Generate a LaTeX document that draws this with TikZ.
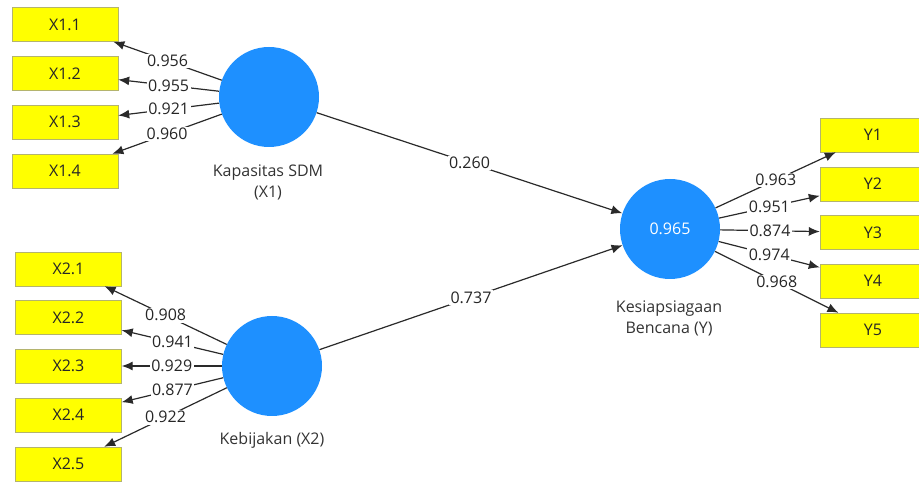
\documentclass[tikz,border=0pt]{standalone}
\usepackage{fontspec}
\setmainfont{Open Sans}
\usepackage{xcolor}
\usetikzlibrary{positioning,arrows.meta}

\definecolor{lvblue}{HTML}{1E90FF}
\definecolor{mvyellow}{HTML}{FFFF00}
\definecolor{mvedge}{HTML}{B4B46E}
\definecolor{pathgray}{HTML}{2A2A2A}

\begin{document}
\begin{tikzpicture}[x=1pt, y=-1pt, >={Latex[length=11pt,width=9pt]},
    font=\fontsize{16}{21}\selectfont,
    indicator/.style={draw=mvedge, fill=mvyellow, minimum width=106pt, minimum height=34pt, inner sep=0pt, text=black!85},
    latent/.style={circle, fill=lvblue, minimum size=100pt, inner sep=0pt, text=white},
    loading/.style={->, pathgray, line width=1.2pt},
    coef/.style={midway, fill=white, inner sep=1.5pt, text=black!85}]
    \useasboundingbox (0,0) rectangle (919,486);

    % latent variables
    \node[latent] (x1) at (269,97) {};
    \node[latent] (x2) at (272,366) {};
    \node[latent] (y) at (670,229) {0.965};
    \node[align=center, text=black!80] (x1lab) at (268,182) {Kapasitas SDM\\(X1)};
    \node[text=black!80] (x2lab) at (272,440) {Kebijakan (X2)};
    \node[align=center, text=black!80] (ylab) at (669,318) {Kesiapsiagaan\\Bencana (Y)};

    % indicators of X1
    \node[indicator] (x11) at (65,24.5) {X1.1};
    \node[indicator] (x12) at (65,73.5) {X1.2};
    \node[indicator] (x13) at (65,122) {X1.3};
    \node[indicator] (x14) at (65,171) {X1.4};

    % indicators of X2
    \node[indicator] (x21) at (68.5,269) {X2.1};
    \node[indicator] (x22) at (68.5,317.5) {X2.2};
    \node[indicator] (x23) at (68.5,366) {X2.3};
    \node[indicator] (x24) at (68.5,415) {X2.4};
    \node[indicator] (x25) at (68.5,464) {X2.5};

    % indicators of Y
    \node[indicator] (y1) at (873,135) {Y1};
    \node[indicator] (y2) at (873,184) {Y2};
    \node[indicator] (y3) at (873,232.5) {Y3};
    \node[indicator] (y4) at (873,281) {Y4};
    \node[indicator] (y5) at (873,330) {Y5};

    % outer loadings
    \draw[loading] (x1) -- (x11) node[coef] {0.956};
    \draw[loading] (x1) -- (x12) node[coef] {0.955};
    \draw[loading] (x1) -- (x13) node[coef] {0.921};
    \draw[loading] (x1) -- (x14) node[coef] {0.960};

    \draw[loading] (x2) -- (x21) node[coef] {0.908};
    \draw[loading] (x2) -- (x22) node[coef] {0.941};
    \draw[loading] (x2) -- (x23) node[coef] {0.929};
    \draw[loading] (x2) -- (x24) node[coef] {0.877};
    \draw[loading] (x2) -- (x25) node[coef] {0.922};

    \draw[loading] (y) -- (y1) node[coef] {0.963};
    \draw[loading] (y) -- (y2) node[coef] {0.951};
    \draw[loading] (y) -- (y3) node[coef] {0.874};
    \draw[loading] (y) -- (y4) node[coef] {0.974};
    \draw[loading] (y) -- (y5) node[coef] {0.968};

    % path coefficients
    \draw[loading] (x1) -- (y) node[coef] {0.260};
    \draw[loading] (x2) -- (y) node[coef] {0.737};
\end{tikzpicture}
\end{document}
